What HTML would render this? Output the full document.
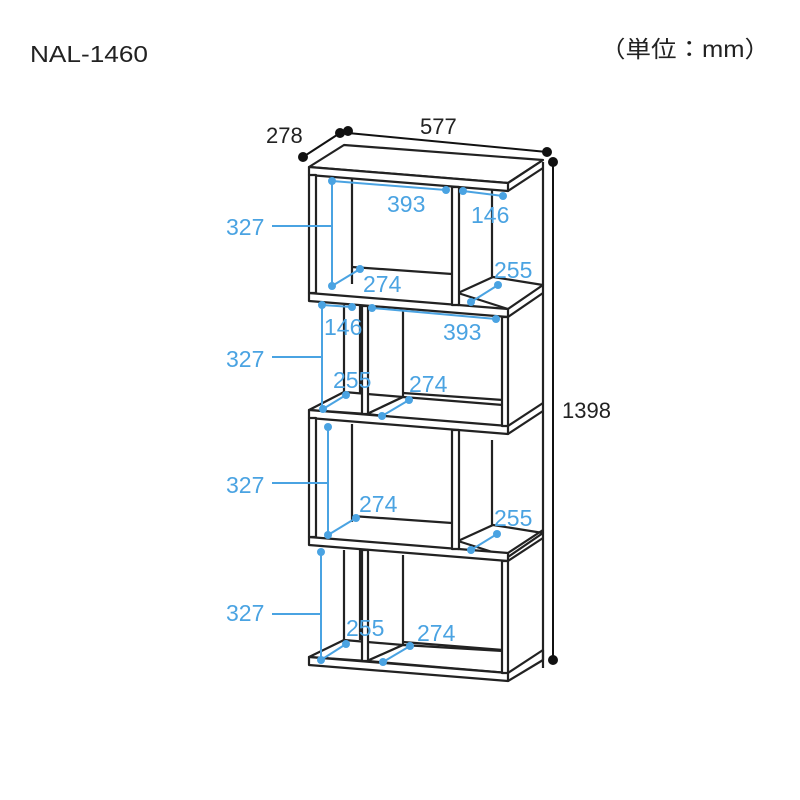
<!DOCTYPE html>
<html><head><meta charset="utf-8"><style>
html,body{margin:0;padding:0;background:#fff;}
svg{display:block;}
text{font-family:"Liberation Sans","Noto Sans CJK JP",sans-serif;}
</style></head><body>
<svg width="800" height="800" viewBox="0 0 800 800" xmlns="http://www.w3.org/2000/svg">
<rect width="800" height="800" fill="#fff"/>
<text x="30" y="62" font-size="23" fill="#222" textLength="118" lengthAdjust="spacingAndGlyphs">NAL-1460</text>
<text x="600" y="57" font-size="23" fill="#222" textLength="170" lengthAdjust="spacingAndGlyphs">（単位：mm）</text>

<g stroke="#222" stroke-width="2.2" fill="#fff" stroke-linejoin="round">
<line x1="543" y1="162" x2="543" y2="668"/>
<line x1="352" y1="174" x2="352" y2="284"/>
<line x1="492" y1="190" x2="492" y2="285"/>
<line x1="344" y1="305" x2="344" y2="400"/>
<line x1="360" y1="305" x2="360" y2="395"/>
<line x1="403" y1="310" x2="403" y2="400"/>
<line x1="352" y1="424" x2="352" y2="522"/>
<line x1="492" y1="440" x2="492" y2="530"/>
<line x1="344" y1="550" x2="344" y2="645"/>
<line x1="360" y1="550" x2="360" y2="640"/>
<line x1="403" y1="555" x2="403" y2="650"/>
<line x1="352" y1="267" x2="452" y2="274"/>
<line x1="403" y1="393" x2="503" y2="400"/>
<line x1="352" y1="516" x2="452" y2="523"/>
<line x1="403" y1="642" x2="503" y2="650"/>
<polygon points="309,167 344,145 543,160 508,183"/>
<polygon points="309,167 508,183 508,191 309,175"/>
<line x1="508" y1="183" x2="543" y2="160"/>
<line x1="508" y1="191" x2="543" y2="168"/>

<polygon points="458,293 493,277 543,285 508,309"/>
<polygon points="309,293 508,309 508,317 309,301"/>
<line x1="508" y1="317" x2="543" y2="293"/>

<polygon points="309,410 344,392 403,397 367,414"/>
<polygon points="367,414 403,397 503,405 508,430"/>
<polygon points="309,410 508,426 508,434 309,418"/>
<line x1="508" y1="426" x2="543" y2="403"/>
<line x1="508" y1="434" x2="543" y2="411"/>

<polygon points="458,541 493,525 543,533 508,557"/>
<polygon points="309,537 508,553 508,561 309,545"/>
<line x1="508" y1="553" x2="543" y2="530"/>
<line x1="508" y1="561" x2="543" y2="538"/>

<polygon points="309,657 344,640 403,645 367,661"/>
<polygon points="367,661 403,645 503,651 508,673"/>
<polygon points="309,657 508,673 508,681 309,665"/>
<line x1="508" y1="673" x2="543" y2="650"/>
<line x1="508" y1="681" x2="543" y2="660"/>
<line x1="543" y1="660" x2="543" y2="650"/>
<rect x="309" y="175" width="7" height="118"/>
<rect x="452" y="187" width="7" height="118"/>
<rect x="362" y="306" width="6" height="108"/>
<rect x="502" y="317" width="6" height="109"/>
<rect x="309" y="418" width="7" height="119"/>
<rect x="452" y="430" width="7" height="119"/>
<rect x="362" y="550" width="6" height="111"/>
<rect x="502" y="561" width="6" height="112"/>
</g>

<g stroke="#111" stroke-width="2" fill="#111">
<line x1="303" y1="157" x2="340" y2="133"/>
<line x1="348" y1="133" x2="547" y2="152"/>
<line x1="553" y1="162" x2="553" y2="660"/>
<circle cx="303" cy="157" r="4"/><circle cx="340" cy="133" r="4"/>
<circle cx="348" cy="131" r="4"/><circle cx="547" cy="152" r="4"/>
<circle cx="553" cy="162" r="4"/><circle cx="553" cy="660" r="4"/>
</g>
<g font-size="22" fill="#222">
<text x="266" y="143">278</text>
<text x="420" y="134">577</text>
<text x="562" y="418">1398</text>
</g>

<g stroke="#4aa3e2" stroke-width="2" fill="#4aa3e2">
<line x1="272" y1="226" x2="332" y2="226"/><line x1="332" y1="181" x2="332" y2="286"/>
<line x1="332" y1="181" x2="446" y2="190"/>
<line x1="463" y1="191" x2="503" y2="196"/>
<line x1="332" y1="286" x2="360" y2="269"/>
<line x1="471" y1="302" x2="498" y2="285"/>
<line x1="272" y1="357" x2="322" y2="357"/><line x1="322" y1="305" x2="322" y2="409"/>
<line x1="322" y1="305" x2="352" y2="307"/>
<line x1="372" y1="308" x2="496" y2="319"/>
<line x1="323" y1="409" x2="346" y2="395"/>
<line x1="382" y1="416" x2="409" y2="400"/>
<line x1="272" y1="483" x2="328" y2="483"/><line x1="328" y1="427" x2="328" y2="535"/>
<line x1="328" y1="535" x2="356" y2="518"/>
<line x1="471" y1="550" x2="497" y2="534"/>
<line x1="272" y1="614" x2="321" y2="614"/><line x1="321" y1="552" x2="321" y2="660"/>
<line x1="321" y1="660" x2="346" y2="644"/>
<line x1="383" y1="662" x2="410" y2="646"/>
<g stroke="none">
<circle cx="332" cy="181" r="4"/><circle cx="446" cy="190" r="4"/><circle cx="463" cy="191" r="4"/><circle cx="503" cy="196" r="4"/>
<circle cx="332" cy="286" r="4"/><circle cx="360" cy="269" r="4"/><circle cx="471" cy="302" r="4"/><circle cx="498" cy="285" r="4"/>
<circle cx="322" cy="305" r="4"/><circle cx="352" cy="307" r="4"/><circle cx="372" cy="308" r="4"/><circle cx="496" cy="319" r="4"/>
<circle cx="323" cy="409" r="4"/><circle cx="346" cy="395" r="4"/><circle cx="382" cy="416" r="4"/><circle cx="409" cy="400" r="4"/>
<circle cx="328" cy="427" r="4"/><circle cx="328" cy="535" r="4"/><circle cx="356" cy="518" r="4"/>
<circle cx="471" cy="550" r="4"/><circle cx="497" cy="534" r="4"/>
<circle cx="321" cy="552" r="4"/><circle cx="321" cy="660" r="4"/><circle cx="346" cy="644" r="4"/>
<circle cx="383" cy="662" r="4"/><circle cx="410" cy="646" r="4"/>
</g>
</g>
<g font-size="23" fill="#4aa3e2">
<text x="226" y="235">327</text>
<text x="387" y="212">393</text>
<text x="471" y="223">146</text>
<text x="363" y="292">274</text>
<text x="494" y="278">255</text>
<text x="324" y="335">146</text>
<text x="443" y="340">393</text>
<text x="226" y="367">327</text>
<text x="333" y="388">255</text>
<text x="409" y="392">274</text>
<text x="226" y="493">327</text>
<text x="359" y="512">274</text>
<text x="494" y="526">255</text>
<text x="226" y="621">327</text>
<text x="346" y="636">255</text>
<text x="417" y="641">274</text>
</g>
</svg>
</body></html>
